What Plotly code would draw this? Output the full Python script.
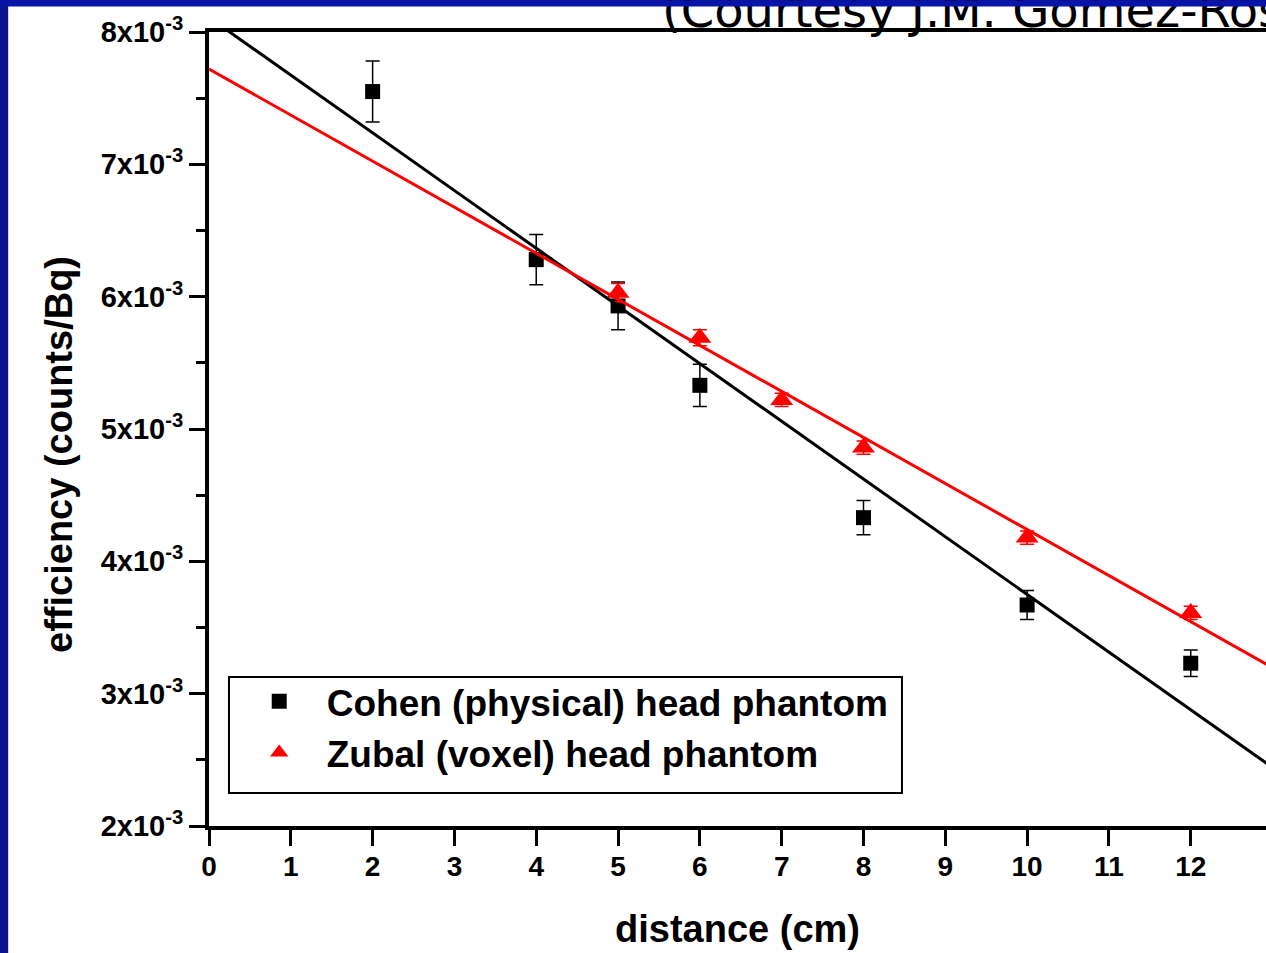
import plotly.graph_objects as go

# measured points, efficiency in units of 1e-3 counts/Bq
distance_cohen = [2, 4, 5, 6, 8, 10, 12]
eff_cohen = [7.55, 6.28, 5.93, 5.33, 4.33, 3.67, 3.23]
err_cohen = [0.23, 0.19, 0.18, 0.16, 0.13, 0.11, 0.10]

distance_zubal = [5, 6, 7, 8, 10, 12]
eff_zubal = [6.03, 5.69, 5.22, 4.86, 4.18, 3.61]
err_zubal = [0.07, 0.06, 0.05, 0.05, 0.05, 0.05]

# straight-line fits (intercept, slope) as drawn on the chart
fit_cohen = (8.11, -0.436)
fit_zubal = (7.72, -0.348)
fit_x = [0, 14]

y_ticks = [2, 3, 4, 5, 6, 7, 8]

SCALE = 1e-3
FONT = 'Liberation Sans, Arial, sans-serif'
BLUE = '#0a148c'


def scaled(vals):
    return [v * SCALE for v in vals]


def fit_line(fit):
    b, m = fit
    return [(b + m * x) * SCALE for x in fit_x]


fig = go.Figure()

fig.add_trace(go.Scatter(
    x=distance_cohen, y=scaled(eff_cohen), mode='markers',
    name='Cohen (physical) head phantom',
    marker=dict(symbol='square', size=15, color='black'),
    error_y=dict(type='data', array=scaled(err_cohen), color='black', thickness=1.5, width=7)))
fig.add_trace(go.Scatter(
    x=distance_zubal, y=scaled(eff_zubal), mode='markers',
    name='Zubal (voxel) head phantom',
    marker=dict(symbol='triangle-up', size=20, color='red'),
    error_y=dict(type='data', array=scaled(err_zubal), color='red', thickness=1.5, width=7)))

fig.add_trace(go.Scatter(x=fit_x, y=fit_line(fit_cohen), mode='lines', showlegend=False,
                         line=dict(color='black', width=3)))
fig.add_trace(go.Scatter(x=fit_x, y=fit_line(fit_zubal), mode='lines', showlegend=False,
                         line=dict(color='red', width=3)))

# white slide area over the blue background
fig.add_shape(type='rect', xref='paper', yref='paper', x0=-0.19, x1=1.02, y0=-0.17, y1=1.034,
              fillcolor='white', line_width=0, layer='below')
# legend frame
fig.add_shape(type='rect', xref='paper', yref='paper', x0=0.0189, x1=0.6556, y0=0.0416, y1=0.1877,
              fillcolor='white', line=dict(color='black', width=2), layer='above')

fig.update_xaxes(
    range=[0, 12.92], dtick=1, tick0=0,
    showline=True, linecolor='black', linewidth=4, mirror=True,
    ticks='outside', ticklen=16, tickwidth=3, tickcolor='black',
    showgrid=False, zeroline=False, ticklabelstandoff=-4,
    tickfont=dict(family=FONT, size=28, color='black', weight='bold'),
    title=dict(text='distance (cm)', standoff=36,
               font=dict(family=FONT, size=38, color='black', weight='bold')))

fig.update_yaxes(
    range=[2 * SCALE, 8 * SCALE],
    tickvals=scaled(y_ticks), ticktext=[f'{t}x10<sup>-3</sup>' for t in y_ticks],
    showline=True, linecolor='black', linewidth=4,
    ticks='outside', ticklen=16, tickwidth=3, tickcolor='black',
    minor=dict(dtick=0.5 * SCALE, ticks='outside', ticklen=9, tickwidth=3, tickcolor='black'),
    showgrid=False, zeroline=False,
    tickfont=dict(family=FONT, size=29, color='black', weight='bold'))

# y title placed a little below the axis middle, as in the source
fig.add_annotation(text='efficiency (counts/Bq)', xref='paper', yref='paper',
                   x=-0.1420, y=0.4685, xanchor='center', yanchor='middle',
                   textangle=-90, showarrow=False,
                   font=dict(family=FONT, size=38, color='black', weight='bold'))

fig.add_annotation(text='(Courtesy J.M. Gomez-Ros)', xref='paper', yref='paper',
                   x=0.4267, y=0.99, xanchor='left', yanchor='bottom', showarrow=False,
                   font=dict(family='Tahoma, DejaVu Sans, sans-serif', size=48, color='black'))
# blue slide edge covers the top of the heading
fig.add_annotation(text=' ', xref='paper', yref='paper', x=-0.1977, y=1.0403,
                   xanchor='left', yanchor='top', showarrow=False, width=1266, height=5,
                   borderpad=0, bgcolor='#0814a8', font=dict(size=4))

fig.update_layout(
    width=1266, height=953,
    margin=dict(l=209, r=0, t=32, b=127),
    paper_bgcolor=BLUE, plot_bgcolor='white',
    showlegend=True,
    legend=dict(x=0.0215, y=0.1955, xanchor='left', yanchor='top',
                bgcolor='rgba(0,0,0,0)', borderwidth=0,
                itemwidth=85, traceorder='normal',
                font=dict(family=FONT, size=37, color='black', weight='bold')),
)

fig.write_html('out.html', config={'displayModeBar': False},
               post_script="document.body.style.margin='0';document.body.style.overflow='hidden';")
